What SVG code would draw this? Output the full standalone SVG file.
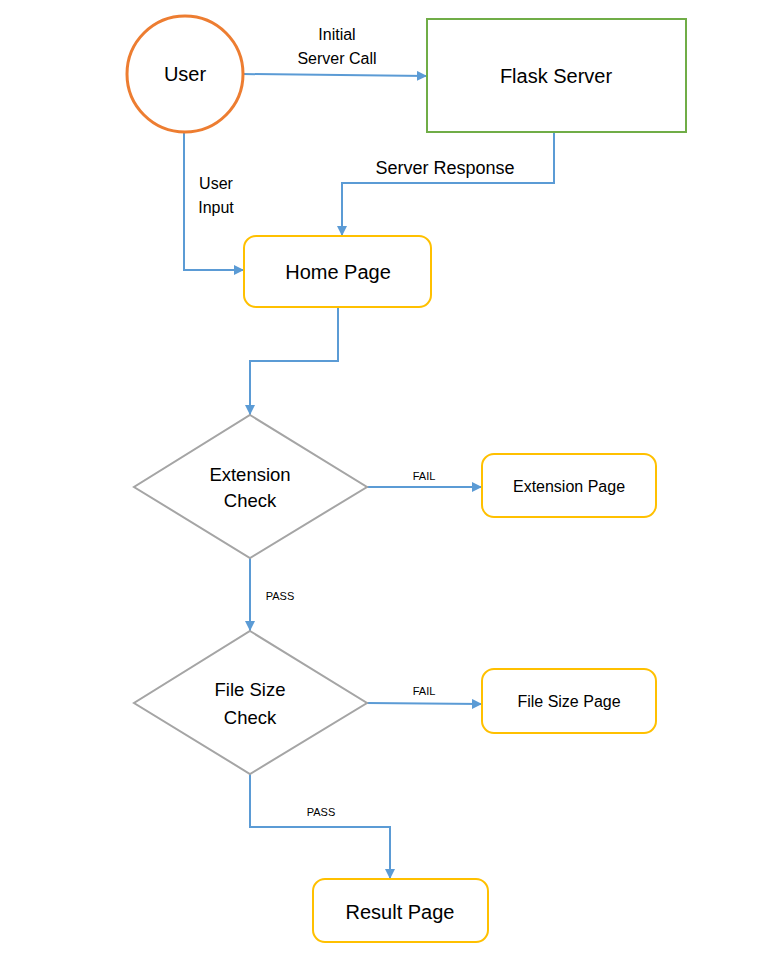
<svg xmlns="http://www.w3.org/2000/svg" width="777" height="971" viewBox="0 0 777 971">
<style>
text{font-family:"Liberation Sans",Arial,sans-serif;fill:#000;text-anchor:middle;dominant-baseline:central}
.page{fill:#fff;stroke:#FFC000;stroke-width:2}
.dia{fill:#fff;stroke:#A5A5A5;stroke-width:2}
.conn{fill:none;stroke:#5B9BD5;stroke-width:2}
.lbl{font-size:16px}
.sm{font-size:11px}
</style>
<defs>
<marker id="ah" viewBox="0 0 10 10" refX="10" refY="5" markerWidth="5" markerHeight="5" orient="auto" markerUnits="strokeWidth">
<path d="M0,0 L10,5 L0,10 z" fill="#5B9BD5"/>
</marker>
</defs>
<rect width="777" height="971" fill="#fff"/>
<g id="connectors">
<path class="conn" d="M243,74 L427,76" marker-end="url(#ah)"/>
<path class="conn" d="M184,132 L184,270 L244,270" marker-end="url(#ah)"/>
<path class="conn" d="M554,132 L554,183 L342,183 L342,236" marker-end="url(#ah)"/>
<path class="conn" d="M338,307 L338,361 L250,361 L250,415" marker-end="url(#ah)"/>
<path class="conn" d="M367,487 L482,487" marker-end="url(#ah)"/>
<path class="conn" d="M250,558 L250,631" marker-end="url(#ah)"/>
<path class="conn" d="M367,703 L482,704" marker-end="url(#ah)"/>
<path class="conn" d="M250,774 L250,827 L390,827 L390,879" marker-end="url(#ah)"/>
<text class="lbl" x="337" y="34">Initial</text>
<text class="lbl" x="337" y="58">Server Call</text>
<text class="lbl" x="216" y="183">User</text>
<text class="lbl" x="216" y="207">Input</text>
<text x="445" y="168" font-size="18">Server Response</text>
<text class="sm" x="424" y="476">FAIL</text>
<text class="sm" x="280" y="596">PASS</text>
<text class="sm" x="424" y="691">FAIL</text>
<text class="sm" x="321" y="812">PASS</text>
</g>
<g id="user">
<circle cx="185" cy="74" r="58" fill="#fff" stroke="#ED7D31" stroke-width="3"/>
<text x="185" y="74" font-size="20">User</text>
</g>
<g id="flask-server">
<rect x="427" y="19" width="259" height="113" fill="#fff" stroke="#70AD47" stroke-width="2"/>
<text x="556" y="76" font-size="20">Flask Server</text>
</g>
<g id="home-page">
<rect class="page" x="244" y="236" width="187" height="71" rx="12"/>
<text x="338" y="272" font-size="20">Home Page</text>
</g>
<g id="extension-check">
<polygon class="dia" points="250,415 367,487 250,558 134,487"/>
<text x="250" y="474" font-size="18.5">Extension</text>
<text x="250" y="500" font-size="18.5">Check</text>
</g>
<g id="extension-page">
<rect class="page" x="482" y="454" width="174" height="63" rx="12"/>
<text x="569" y="486" font-size="16">Extension Page</text>
</g>
<g id="file-size-check">
<polygon class="dia" points="250,631 367,703 250,774 134,703"/>
<text x="250" y="689" font-size="18.5">File Size</text>
<text x="250" y="717" font-size="18.5">Check</text>
</g>
<g id="file-size-page">
<rect class="page" x="482" y="669" width="174" height="64" rx="12"/>
<text x="569" y="701" font-size="16">File Size Page</text>
</g>
<g id="result-page">
<rect class="page" x="313" y="879" width="175" height="63" rx="12"/>
<text x="400" y="912" font-size="20">Result Page</text>
</g>
</svg>
